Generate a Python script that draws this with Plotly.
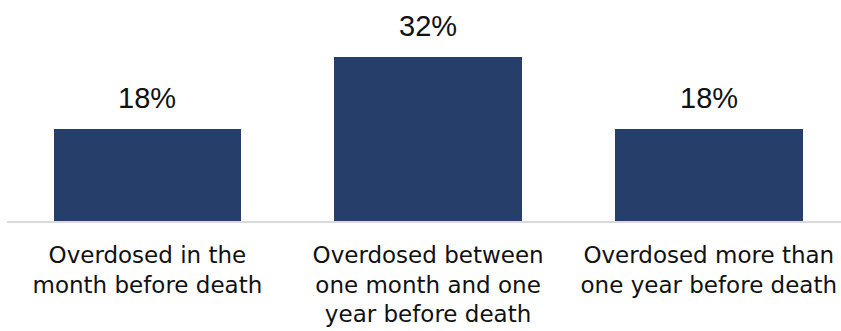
import plotly.graph_objects as go

categories = [
    "Overdosed in the<br>month before death",
    "Overdosed between<br>one month and one<br>year before death",
    "Overdosed more than<br>one year before death",
]
values = [18, 32, 18]
value_labels = ["18%", "32%", "18%"]

fig = go.Figure()
fig.add_trace(go.Bar(
    x=[0, 1, 2],
    y=values,
    width=0.668,
    marker=dict(color="#263E6A", line=dict(width=0)),
    hoverinfo="skip",
))

for i, (v, t) in enumerate(zip(values, value_labels)):
    fig.add_annotation(
        x=i, y=v, text=t, showarrow=False,
        yanchor="bottom", yshift=13,
        font=dict(family="Liberation Sans", size=29, color="#111111"),
    )

fig.update_layout(
    width=841, height=331,
    margin=dict(l=7, r=0, t=10, b=110),
    paper_bgcolor="white", plot_bgcolor="white",
    showlegend=False,
    bargap=0,
    xaxis=dict(
        range=[-0.5, 2.471],
        tickmode="array", tickvals=[0, 1, 2], ticktext=categories,
        showgrid=False, zeroline=False,
        showline=True, linecolor="#D9D9D9", linewidth=2,
        ticks="", ticklabelstandoff=12,
        ticklabeloverflow="allow",
        automargin=False,
        tickfont=dict(family="DejaVu Sans", size=23, color="#111111"),
    ),
    yaxis=dict(
        range=[0, 41.1], visible=False, showgrid=False, zeroline=False,
        automargin=False,
    ),
)

fig.write_html("out.html")
